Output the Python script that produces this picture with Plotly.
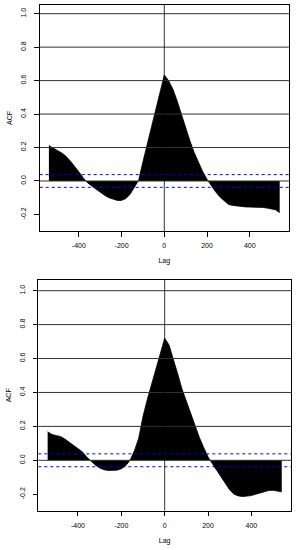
import plotly.graph_objects as go

lags = list(range(-540, 541, 20))

acf_top = [0.212, 0.195, 0.182, 0.168, 0.148, 0.120, 0.090, 0.055, 0.020, -0.010,
           -0.030, -0.050, -0.068, -0.085, -0.100, -0.110, -0.116, -0.116, -0.105, -0.080,
           -0.040, 0.005, 0.115, 0.220, 0.330, 0.430, 0.540, 0.634, 0.600, 0.550,
           0.480, 0.400, 0.310, 0.240, 0.170, 0.110, 0.055, 0.010, -0.030, -0.065,
           -0.095, -0.120, -0.140, -0.146, -0.150, -0.153, -0.155, -0.156, -0.156, -0.156,
           -0.158, -0.162, -0.166, -0.172, -0.190]

acf_bottom = [0.168, 0.152, 0.146, 0.140, 0.125, 0.107, 0.090, 0.072, 0.050, 0.020,
              -0.005, -0.028, -0.045, -0.056, -0.060, -0.060, -0.058, -0.050, -0.032, 0.000,
              0.055, 0.130, 0.260, 0.360, 0.450, 0.550, 0.640, 0.720, 0.680, 0.600,
              0.510, 0.420, 0.350, 0.270, 0.200, 0.135, 0.075, 0.020, -0.020, -0.060,
              -0.100, -0.140, -0.175, -0.200, -0.210, -0.214, -0.213, -0.208, -0.200, -0.192,
              -0.184, -0.178, -0.177, -0.180, -0.186]

ci = 0.038
hlines = [0.0, 0.2, 0.4, 0.6, 0.8, 1.0]
x_ticks = [-400, -200, 0, 200, 400]
y_ticks = [-0.2, 0.0, 0.2, 0.4, 0.6, 0.8, 1.0]
y_ticklabels = ["-0.2", "0.0", "0.2", "0.4", "0.6", "0.8", "1.0"]

W, H = 297, 550
font = dict(family="Liberation Sans, Arial, Helvetica, sans-serif", size=7, color="black")

fig = go.Figure()

panels = [
    dict(data=acf_top, xa="x", ya="y", xdom=[0.1337, 0.9727], ydom=[0.58, 0.9909], yr=[-0.299, 1.052]),
    dict(data=acf_bottom, xa="x2", ya="y2", xdom=[0.129, 0.980], ydom=[0.0715, 0.4909], yr=[-0.297, 1.063]),
]

layout_axes = {}
for i, p in enumerate(panels):
    fig.add_trace(go.Scatter(x=lags, y=p["data"], mode="lines", fill="tozeroy",
                             line=dict(color="black", width=0.8), fillcolor="black",
                             xaxis=p["xa"], yaxis=p["ya"], showlegend=False, hoverinfo="skip"))
    xref = p["xa"]
    yref = p["ya"]
    for h in hlines:
        fig.add_shape(type="line", xref=xref + " domain", yref=yref, x0=0, x1=1, y0=h, y1=h,
                      line=dict(color="#333333", width=1), layer="above")
    fig.add_shape(type="line", xref=xref, yref=yref + " domain", x0=0, x1=0, y0=0, y1=1,
                  line=dict(color="black", width=0.8), layer="above")
    for c in (ci, -ci):
        fig.add_shape(type="line", xref=xref + " domain", yref=yref, x0=0, x1=1, y0=c, y1=c,
                      line=dict(color="blue", width=1, dash="dot"), layer="above")
    suffix = "" if i == 0 else "2"
    layout_axes["xaxis" + suffix] = dict(
        domain=p["xdom"], range=[-583, 583], anchor=yref, tickvals=x_ticks,
        ticktext=[str(v) for v in x_ticks], automargin=False,
        showgrid=False, zeroline=False, showline=True, mirror=True, linecolor="black",
        linewidth=1, ticks="outside", ticklen=4.5, tickcolor="black", tickfont=font,
        ticklabelstandoff=3,
        title=dict(text="Lag", font=font, standoff=10))
    layout_axes["yaxis" + suffix] = dict(
        domain=p["ydom"], range=p["yr"], anchor=xref, tickvals=y_ticks,
        ticktext=y_ticklabels, tickangle=-90,
        automargin=False,
        showgrid=False, zeroline=False, showline=True, mirror=True, linecolor="black",
        linewidth=1, ticks="outside", ticklen=4.5, tickcolor="black", tickfont=font,
        ticklabelstandoff=5,
        title=dict(text="ACF", font=font, standoff=6))

fig.update_layout(width=W, height=H, margin=dict(l=0, r=0, t=0, b=0),
                  plot_bgcolor="white", paper_bgcolor="white", font=font, **layout_axes)

fig.write_html("out.html", config={"displayModeBar": False},
               post_script="document.body.style.margin='0';document.body.style.padding='0';")
